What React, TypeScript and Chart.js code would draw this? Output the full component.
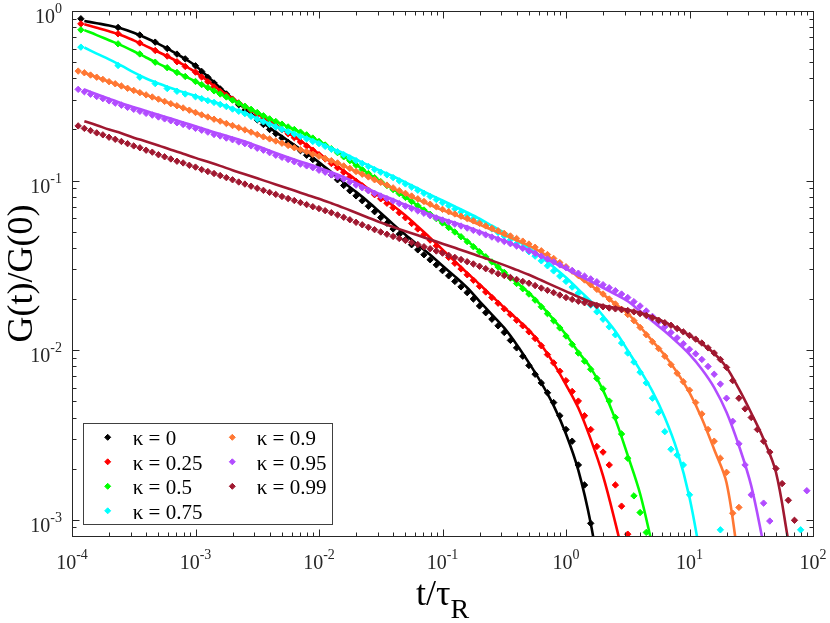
import React, { useEffect, useRef } from 'react';
import { Chart, registerables } from 'chart.js';

Chart.register(...registerables);

const FONT = '"Liberation Serif", "Times New Roman", Times, serif';
const AXIS_COLOR = '#262626';

const KAPPA_LABELS = ['0', '0.25', '0.5', '0.75', '0.9', '0.95', '0.99'];
const COLORS = ['#000000', '#ff0000', '#00ff00', '#00ffff', '#ff7733', '#b24cff', '#a01830'];

const X_MIN = 1e-4;
const X_MAX = 1e2;
const Y_MIN = 8e-4;
const Y_MAX = 1;
const X_DECADES = [-4, -3, -2, -1, 0, 1, 2];
const Y_DECADES = [-3, -2, -1, 0];

// time grids (t / tau_R)
const T_LINEAR = [1.18e-4, 2.36e-4, 3.54e-4, 4.72e-4, 5.9e-4, 7.08e-4, 8.26e-4];
const T_EARLY = [1.122e-4, 1.259e-4, 1.413e-4, 1.585e-4, 1.778e-4, 1.995e-4, 2.239e-4, 2.512e-4, 2.818e-4,
  3.162e-4, 3.548e-4, 3.981e-4, 4.467e-4, 5.012e-4, 5.623e-4, 6.31e-4, 7.079e-4, 7.943e-4, 8.913e-4];
const T_LOG = [
  1.0e-3, 1.122e-3, 1.259e-3, 1.413e-3, 1.585e-3, 1.778e-3, 1.995e-3, 2.239e-3, 2.512e-3, 2.818e-3,
  3.162e-3, 3.548e-3, 3.981e-3, 4.467e-3, 5.012e-3, 5.623e-3, 6.31e-3, 7.079e-3, 7.943e-3, 8.913e-3,
  1.0e-2, 1.122e-2, 1.259e-2, 1.413e-2, 1.585e-2, 1.778e-2, 1.995e-2, 2.239e-2, 2.512e-2, 2.818e-2,
  3.162e-2, 3.548e-2, 3.981e-2, 4.467e-2, 5.012e-2, 5.623e-2, 6.31e-2, 7.079e-2, 7.943e-2, 8.913e-2,
  0.1, 0.1122, 0.1259, 0.1413, 0.1585, 0.1778, 0.1995, 0.2239, 0.2512, 0.2818,
  0.3162, 0.3548, 0.3981, 0.4467, 0.5012, 0.5623, 0.631, 0.7079, 0.7943, 0.8913,
  1.0, 1.122, 1.259, 1.413, 1.585, 1.778, 1.995, 2.239, 2.512, 2.818,
  3.162, 3.548, 3.981, 4.467, 5.012, 5.623, 6.31, 7.079, 7.943, 8.913,
  10.0, 11.22, 12.59, 14.13, 15.85, 17.78, 19.95, 22.39, 25.12, 28.18,
  31.62, 35.48, 39.81, 44.67, 50.12, 56.23, 63.1, 70.79, 79.43, 89.13,
  100,
];
const T_A = [...T_LINEAR, ...T_LOG];
const T_B = [...T_EARLY, ...T_LOG];
const T_FIT = [
  1.259e-4, 1.585e-4, 1.995e-4, 2.512e-4, 3.162e-4, 3.981e-4, 5.012e-4, 6.31e-4, 7.943e-4,
  1.0e-3, 1.259e-3, 1.585e-3, 1.995e-3, 2.512e-3, 3.162e-3, 3.981e-3, 5.012e-3, 6.31e-3, 7.943e-3,
  1.0e-2, 1.259e-2, 1.585e-2, 1.995e-2, 2.512e-2, 3.162e-2, 3.981e-2, 5.012e-2, 6.31e-2, 7.943e-2,
  0.1, 0.1259, 0.1585, 0.1995, 0.2512, 0.3162, 0.3981, 0.5012, 0.631, 0.7943,
  1.0, 1.259, 1.585, 1.995, 2.512, 3.162, 3.981, 5.012, 6.31, 7.943,
  10.0, 12.59, 15.85, 19.95, 25.12, 31.62, 39.81, 50.12, 63.1, 79.43,
  100,
];

// simulation data G(t)/G(0) (markers); kappa 0..0.75 on T_A, kappa 0.9..0.99 on T_B
const PTS_K0 = [
  0.900, 0.800, 0.722, 0.655, 0.601, 0.557, 0.522,
  0.475, 0.440, 0.406, 0.376, 0.347, 0.324, 0.300, 0.280, 0.260, 0.243,
  0.228, 0.214, 0.200, 0.189, 0.178, 0.168, 0.158, 0.150, 0.141, 0.133,
  0.124, 0.116, 0.108, 0.101, 0.0935, 0.0870, 0.0812, 0.0760, 0.0705, 0.0655,
  0.0605, 0.0560, 0.0518, 0.0482, 0.0448, 0.0418, 0.0390, 0.0365, 0.0341, 0.0318,
  0.0294, 0.0274, 0.0254, 0.0236, 0.0218, 0.0200, 0.0182, 0.0166, 0.0152, 0.0139,
  0.0127, 0.0114, 0.0103, 0.0092, 0.0081, 0.0072, 0.0064, 0.0056, 0.0049, 0.0041,
  0.0034, 0.0029, 0.0021, 0.0016, 0.00095,
];
const PTS_K1 = [
  0.840, 0.734, 0.648, 0.585, 0.542, 0.502, 0.471,
  0.436, 0.408, 0.382, 0.357, 0.335, 0.318, 0.302, 0.287, 0.273, 0.259,
  0.246, 0.233, 0.221, 0.210, 0.199, 0.189, 0.179, 0.169, 0.160, 0.151,
  0.142, 0.134, 0.126, 0.119, 0.112, 0.105, 0.0990, 0.0930, 0.0875, 0.0825,
  0.0780, 0.0735, 0.0692, 0.0646, 0.0603, 0.0558, 0.0518, 0.0480, 0.0445, 0.0412,
  0.0380, 0.0352, 0.0325, 0.0301, 0.0278, 0.0258, 0.0238, 0.0220, 0.0204, 0.0189,
  0.0175, 0.0162, 0.0150, 0.0139, 0.0128, 0.0117, 0.0106, 0.0094, 0.0084, 0.0075,
  0.0066, 0.0057, 0.0050, 0.0041, 0.0034, 0.0027, 0.0025, 0.0021, 0.0016, 0.0012,
  0.00082,
];
const PTS_K2 = [
  0.774, 0.640, 0.558, 0.499, 0.463, 0.434, 0.411,
  0.384, 0.368, 0.353, 0.338, 0.324, 0.311, 0.298, 0.286, 0.274, 0.263,
  0.252, 0.241, 0.231, 0.223, 0.215, 0.207, 0.200, 0.193, 0.186, 0.178,
  0.170, 0.162, 0.154, 0.146, 0.138, 0.131, 0.123, 0.116, 0.110, 0.104,
  0.0985, 0.0935, 0.0885, 0.0838, 0.0795, 0.0752, 0.0710, 0.0670, 0.0632, 0.0596,
  0.0562, 0.0528, 0.0497, 0.0466, 0.0436, 0.0407, 0.0380, 0.0355, 0.0331, 0.0309,
  0.0287, 0.0266, 0.0247, 0.0230, 0.0214, 0.0197, 0.0180, 0.0164, 0.0149, 0.0135,
  0.0121, 0.0108, 0.0096, 0.0086, 0.0077, 0.0068, 0.0059, 0.0050, 0.0040, 0.0032,
  0.0023, 0.00138, 0.00110, 0.00084,
];
const PTS_K3 = [
  0.612, 0.477, 0.407, 0.373, 0.349, 0.336, 0.324,
  0.312, 0.304, 0.296, 0.289, 0.281, 0.273, 0.264, 0.256, 0.248, 0.239,
  0.230, 0.222, 0.214, 0.207, 0.200, 0.194, 0.188, 0.182, 0.176, 0.170,
  0.165, 0.159, 0.153, 0.148, 0.142, 0.136, 0.131, 0.126, 0.121, 0.116,
  0.112, 0.108, 0.104, 0.0995, 0.0955, 0.0915, 0.0877, 0.0841, 0.0806, 0.0772,
  0.0740, 0.0710, 0.0680, 0.0652, 0.0624, 0.0597, 0.0570, 0.0544, 0.0518, 0.0494,
  0.0470, 0.0447, 0.0424, 0.0402, 0.0380, 0.0358, 0.0336, 0.0314, 0.0293, 0.0273,
  0.0254, 0.0235, 0.0217, 0.0200, 0.0184, 0.0168, 0.0152, 0.0137, 0.0123, 0.0110,
  0.0096, 0.0085, 0.0074, 0.0064, 0.0052, 0.0043, 0.0033, 0.0026, 0.0024, 0.0021,
  0.0014, null, null, null, null, 0.00087, null, null, null, null,
  null, null, null, null, null, null, null, null, 0.00087,
];
const PTS_K4 = [
  0.442, 0.432, 0.419, 0.407, 0.395, 0.383, 0.372, 0.361, 0.350, 0.340,
  0.330, 0.320, 0.311, 0.302, 0.293, 0.284, 0.276, 0.268, 0.260,
  0.252, 0.244, 0.237, 0.230, 0.224, 0.217, 0.211, 0.205, 0.199, 0.193,
  0.187, 0.181, 0.176, 0.171, 0.166, 0.161, 0.156, 0.152, 0.148, 0.143,
  0.139, 0.135, 0.131, 0.127, 0.122, 0.118, 0.113, 0.109, 0.105, 0.101,
  0.0975, 0.0940, 0.0905, 0.0872, 0.0840, 0.0810, 0.0780, 0.0752, 0.0725, 0.0700,
  0.0676, 0.0655, 0.0635, 0.0616, 0.0597, 0.0578, 0.0559, 0.0540, 0.0522, 0.0505,
  0.0488, 0.0471, 0.0455, 0.0439, 0.0422, 0.0404, 0.0385, 0.0366, 0.0347, 0.0328,
  0.0310, 0.0292, 0.0275, 0.0259, 0.0243, 0.0228, 0.0214, 0.0200, 0.0187, 0.0174,
  0.0162, 0.0149, 0.0136, 0.0123, 0.0112, 0.0102, 0.0092, 0.0082, 0.0073, 0.0065,
  0.0058, 0.0049, 0.0042, 0.0034, 0.0029, 0.0023, 0.0019, 0.00109, 0.00118,
];
const PTS_K5 = [
  0.345, 0.334, 0.323, 0.313, 0.304, 0.295, 0.286, 0.278, 0.270, 0.263,
  0.256, 0.249, 0.243, 0.237, 0.231, 0.225, 0.219, 0.214, 0.208,
  0.203, 0.198, 0.193, 0.187, 0.183, 0.178, 0.174, 0.169, 0.165, 0.160,
  0.155, 0.151, 0.146, 0.141, 0.137, 0.133, 0.129, 0.125, 0.122, 0.119,
  0.115, 0.112, 0.108, 0.105, 0.102, 0.0980, 0.0940, 0.0905, 0.0870, 0.0840,
  0.0810, 0.0782, 0.0757, 0.0731, 0.0706, 0.0684, 0.0662, 0.0641, 0.0620, 0.0602,
  0.0585, 0.0569, 0.0553, 0.0539, 0.0524, 0.0508, 0.0493, 0.0478, 0.0464, 0.0450,
  0.0437, 0.0424, 0.0411, 0.0398, 0.0385, 0.0372, 0.0358, 0.0344, 0.0331, 0.0318,
  0.0306, 0.0295, 0.0284, 0.0273, 0.0263, 0.0253, 0.0243, 0.0233, 0.0224, 0.0214,
  0.0204, 0.0193, 0.0182, 0.0170, 0.0158, 0.0147, 0.0137, 0.0127, 0.0118, 0.0109,
  0.0101, 0.0095, 0.0088, 0.0080, 0.0072, 0.0063, 0.0052, 0.0038, 0.0028, 0.0021,
  0.0014, null, 0.00125, 0.00098, null, null, null, null, null, 0.00148,
];
const PTS_K6 = [
  0.210, 0.203, 0.197, 0.191, 0.186, 0.180, 0.175, 0.170, 0.165, 0.160,
  0.156, 0.151, 0.147, 0.142, 0.138, 0.134, 0.130, 0.127, 0.123,
  0.120, 0.116, 0.113, 0.110, 0.107, 0.104, 0.101, 0.0980, 0.0953, 0.0926,
  0.0900, 0.0875, 0.0851, 0.0828, 0.0805, 0.0783, 0.0762, 0.0741, 0.0721, 0.0701,
  0.0683, 0.0664, 0.0646, 0.0627, 0.0607, 0.0587, 0.0567, 0.0548, 0.0530, 0.0513,
  0.0497, 0.0482, 0.0468, 0.0455, 0.0443, 0.0431, 0.0419, 0.0407, 0.0396, 0.0384,
  0.0373, 0.0362, 0.0352, 0.0342, 0.0332, 0.0322, 0.0312, 0.0302, 0.0292, 0.0282,
  0.0275, 0.0268, 0.0261, 0.0254, 0.0248, 0.0240, 0.0232, 0.0225, 0.0218, 0.0211,
  0.0204, 0.0199, 0.0194, 0.0190, 0.0186, 0.0183, 0.0180, 0.0177, 0.0175, 0.0173,
  0.0171, 0.0168, 0.0164, 0.0160, 0.0155, 0.0150, 0.0145, 0.0140, 0.0134, 0.0128,
  0.0122, 0.0116, 0.0110, 0.0103, 0.0096, 0.0088, 0.0079, 0.0066, 0.0052, 0.0045,
  0.0040, 0.0034, 0.0029, 0.0025, 0.0020, 0.00163, 0.00130, 0.00099,
];

// model fits (solid lines) on T_FIT
const FIT_K0 = [
  0.873, 0.847, 0.821, 0.789, 0.744, 0.693, 0.640, 0.585, 0.531, 0.475,
  0.410, 0.352, 0.305, 0.266, 0.233, 0.205, 0.182, 0.162, 0.145, 0.128,
  0.112, 0.0977, 0.0857, 0.0748, 0.0644, 0.0553, 0.0478, 0.0417, 0.0365, 0.0314,
  0.0272, 0.0233, 0.0194, 0.0162, 0.0135, 0.0108, 0.0084, 0.0064, 0.0047, 0.0032,
  0.00195, 0.00095, 0.00035,
];
const FIT_K1 = [
  0.836, 0.797, 0.759, 0.720, 0.671, 0.621, 0.573, 0.528, 0.482, 0.436,
  0.385, 0.340, 0.304, 0.274, 0.248, 0.223, 0.201, 0.181, 0.162, 0.144,
  0.128, 0.114, 0.101, 0.0893, 0.0797, 0.0710, 0.0622, 0.0535, 0.0459, 0.0391,
  0.0334, 0.0285, 0.0244, 0.0208, 0.0178, 0.0153, 0.0131, 0.0107, 0.00835, 0.00624,
  0.00455, 0.00298, 0.00181, 0.000953, 0.00047,
];
const FIT_K2 = [
  0.771, 0.721, 0.672, 0.627, 0.579, 0.532, 0.489, 0.452, 0.417, 0.384,
  0.353, 0.324, 0.298, 0.274, 0.252, 0.231, 0.215, 0.200, 0.186, 0.171,
  0.155, 0.139, 0.124, 0.110, 0.0989, 0.0889, 0.0798, 0.0712, 0.0636, 0.0565,
  0.0500, 0.0440, 0.0383, 0.0332, 0.0288, 0.0250, 0.0217, 0.0183, 0.0151, 0.0123,
  0.00973, 0.00785, 0.00580, 0.00390, 0.00239, 0.00142, 0.00070,
];
const FIT_K3 = [
  0.609, 0.561, 0.518, 0.476, 0.434, 0.400, 0.374, 0.351, 0.332, 0.315,
  0.298, 0.283, 0.266, 0.250, 0.232, 0.216, 0.202, 0.190, 0.178, 0.167,
  0.155, 0.145, 0.133, 0.123, 0.114, 0.106, 0.0975, 0.0897, 0.0826, 0.0762,
  0.0703, 0.0648, 0.0595, 0.0541, 0.0492, 0.0444, 0.0400, 0.0354, 0.0309, 0.0268,
  0.0228, 0.0194, 0.0159, 0.0129, 0.00994, 0.00762, 0.00571, 0.00400, 0.00255, 0.00135,
  0.00055,
];
const FIT_K4 = [
  0.432, 0.407, 0.383, 0.361, 0.340, 0.320, 0.302, 0.284, 0.268, 0.252,
  0.237, 0.224, 0.211, 0.199, 0.187, 0.176, 0.166, 0.156, 0.148, 0.139,
  0.131, 0.122, 0.113, 0.105, 0.0971, 0.0900, 0.0834, 0.0773, 0.0718, 0.0669,
  0.0628, 0.0589, 0.0549, 0.0512, 0.0477, 0.0444, 0.0413, 0.0377, 0.0340, 0.0305,
  0.0271, 0.0241, 0.0213, 0.0187, 0.0164, 0.0137, 0.0113, 0.00929, 0.00738, 0.00560,
  0.00395, 0.00259, 0.00165, 0.00055,
];
const FIT_K5 = [
  0.344, 0.323, 0.304, 0.286, 0.271, 0.257, 0.244, 0.232, 0.220, 0.209,
  0.198, 0.188, 0.179, 0.170, 0.160, 0.150, 0.141, 0.133, 0.126, 0.119,
  0.112, 0.105, 0.0964, 0.0892, 0.0827, 0.0773, 0.0719, 0.0675, 0.0630, 0.0595,
  0.0563, 0.0533, 0.0500, 0.0470, 0.0442, 0.0413, 0.0388, 0.0358, 0.0328, 0.0301,
  0.0276, 0.0254, 0.0233, 0.0213, 0.0194, 0.0170, 0.0148, 0.0129, 0.0111, 0.00943,
  0.00771, 0.00601, 0.00430, 0.00273, 0.00158, 0.00071,
];
const FIT_K6 = [
  0.224, 0.212, 0.200, 0.190, 0.179, 0.170, 0.161, 0.152, 0.144, 0.136,
  0.129, 0.122, 0.115, 0.109, 0.103, 0.0975, 0.0922, 0.0872, 0.0825, 0.0781,
  0.0735, 0.0690, 0.0645, 0.0603, 0.0565, 0.0532, 0.0502, 0.0475, 0.0449, 0.0424,
  0.0401, 0.0379, 0.0357, 0.0337, 0.0317, 0.0297, 0.0278, 0.0258, 0.0239, 0.0222,
  0.0206, 0.0192, 0.0183, 0.0178, 0.0173, 0.0166, 0.0157, 0.0146, 0.0134, 0.0122,
  0.0109, 0.00955, 0.00790, 0.00590, 0.00425, 0.00298, 0.00190, 0.00075,
];

const ALL_PTS = [PTS_K0, PTS_K1, PTS_K2, PTS_K3, PTS_K4, PTS_K5, PTS_K6];
const ALL_FITS = [FIT_K0, FIT_K1, FIT_K2, FIT_K3, FIT_K4, FIT_K5, FIT_K6];
const PT_GRIDS = [T_A, T_A, T_A, T_A, T_B, T_B, T_B];

function drawDiamond(ctx: CanvasRenderingContext2D, x: number, y: number, r: number, color: string) {
  ctx.beginPath();
  ctx.moveTo(x - r, y);
  ctx.lineTo(x, y - r);
  ctx.lineTo(x + r, y);
  ctx.lineTo(x, y + r);
  ctx.closePath();
  ctx.fillStyle = color;
  ctx.strokeStyle = color;
  ctx.lineWidth = 1;
  ctx.fill();
  ctx.stroke();
}

function drawPow(ctx: CanvasRenderingContext2D, exp: number, x: number, baseline: number, align: 'center' | 'right') {
  const sup = String(exp);
  ctx.font = `20px ${FONT}`;
  const w1 = ctx.measureText('10').width;
  ctx.font = `14px ${FONT}`;
  const w2 = ctx.measureText(sup).width;
  const start = align === 'center' ? x - (w1 + w2) / 2 : x - (w1 + w2);
  ctx.textAlign = 'left';
  ctx.textBaseline = 'alphabetic';
  ctx.fillStyle = AXIS_COLOR;
  ctx.font = `20px ${FONT}`;
  ctx.fillText('10', start, baseline);
  ctx.font = `14px ${FONT}`;
  ctx.fillText(sup, start + w1, baseline - 10);
}

const bgPlugin = {
  id: 'whiteBg',
  beforeDraw(chart: any) {
    const c = chart.ctx;
    c.save();
    c.fillStyle = '#ffffff';
    c.fillRect(0, 0, chart.width, chart.height);
    c.restore();
  },
};

const framePlugin = {
  id: 'matlabFrame',
  afterDraw(chart: any) {
    const ctx: CanvasRenderingContext2D = chart.ctx;
    const xs = chart.scales.x;
    const ys = chart.scales.y;
    const { left, right, top, bottom } = chart.chartArea;
    const L = Math.round(left) + 0.5;
    const R = Math.round(right) + 0.5;
    const T = Math.round(top) + 0.5;
    const B = Math.round(bottom) + 0.5;
    ctx.save();
    ctx.strokeStyle = AXIS_COLOR;
    ctx.lineWidth = 1;
    ctx.strokeRect(L, T, R - L, B - T);

    ctx.beginPath();
    for (const e of X_DECADES) {
      for (let k = 1; k <= 9; k++) {
        const v = k * Math.pow(10, e);
        if (v < X_MIN * 0.999 || v > X_MAX * 1.001) continue;
        const px = Math.round(xs.getPixelForValue(v)) + 0.5;
        const len = k === 1 ? 7 : 4;
        ctx.moveTo(px, B);
        ctx.lineTo(px, B - len);
        ctx.moveTo(px, T);
        ctx.lineTo(px, T + len);
      }
    }
    for (const e of [-4, ...Y_DECADES]) {
      for (let k = 1; k <= 9; k++) {
        const v = k * Math.pow(10, e);
        if (v < Y_MIN * 0.999 || v > Y_MAX * 1.001) continue;
        const py = Math.round(ys.getPixelForValue(v)) + 0.5;
        const len = k === 1 ? 7 : 4;
        ctx.moveTo(L, py);
        ctx.lineTo(L + len, py);
        ctx.moveTo(R, py);
        ctx.lineTo(R - len, py);
      }
    }
    ctx.stroke();

    for (const e of X_DECADES) {
      drawPow(ctx, e, xs.getPixelForValue(Math.pow(10, e)), bottom + 33, 'center');
    }
    for (const e of Y_DECADES) {
      drawPow(ctx, e, left - 10, ys.getPixelForValue(Math.pow(10, e)) + 12, 'right');
    }

    ctx.fillStyle = '#000000';
    ctx.save();
    ctx.translate(32, (top + bottom) / 2);
    ctx.rotate(-Math.PI / 2);
    ctx.font = `36px ${FONT}`;
    ctx.textAlign = 'center';
    ctx.textBaseline = 'alphabetic';
    ctx.fillText('G(t)/G(0)', 0, 0);
    ctx.restore();

    ctx.font = `36px ${FONT}`;
    const wMain = ctx.measureText('t/τ').width;
    ctx.font = `28px ${FONT}`;
    const wSub = ctx.measureText('R').width;
    const xc = (left + right) / 2;
    const sx = xc - (wMain + wSub) / 2;
    ctx.textAlign = 'left';
    ctx.textBaseline = 'alphabetic';
    ctx.font = `36px ${FONT}`;
    ctx.fillText('t/τ', sx, bottom + 69);
    ctx.font = `28px ${FONT}`;
    ctx.fillText('R', sx + wMain, bottom + 82);

    const lx = 83.5;
    const ly = 423.5;
    ctx.fillStyle = '#ffffff';
    ctx.fillRect(lx, ly, 249, 101);
    ctx.strokeStyle = '#404040';
    ctx.lineWidth = 1;
    ctx.strokeRect(lx, ly, 249, 101);
    const rowY = [437.3, 461.8, 486.3, 510.8];
    const markX = [107.7, 232.3];
    const textX = [132.7, 256.7];
    KAPPA_LABELS.forEach((lab, k) => {
      const col = k < 4 ? 0 : 1;
      const row = k < 4 ? k : k - 4;
      drawDiamond(ctx, markX[col], rowY[row], 3, COLORS[k]);
      ctx.fillStyle = '#000000';
      ctx.font = `21px ${FONT}`;
      ctx.textAlign = 'left';
      ctx.textBaseline = 'alphabetic';
      ctx.fillText('κ = ' + lab, textX[col], rowY[row] + 8);
    });
    ctx.restore();
  },
};

export default function App() {
  const canvasRef = useRef<HTMLCanvasElement>(null);

  useEffect(() => {
    const canvas = canvasRef.current;
    if (!canvas) return;
    const datasets: any[] = [];
    ALL_PTS.forEach((ys, k) => {
      const grid = PT_GRIDS[k];
      const pts: { x: number; y: number }[] = [];
      ys.forEach((y, i) => {
        if (y !== null && y !== undefined) pts.push({ x: grid[i], y: y as number });
      });
      datasets.push({
        label: 'κ = ' + KAPPA_LABELS[k],
        data: pts,
        showLine: false,
        pointStyle: 'rectRot',
        pointRadius: 3.2,
        pointBorderWidth: 1,
        pointBackgroundColor: COLORS[k],
        pointBorderColor: COLORS[k],
        order: 100 - 2 * k,
      });
      datasets.push({
        label: 'fit κ = ' + KAPPA_LABELS[k],
        data: ALL_FITS[k].map((y, i) => ({ x: T_FIT[i], y })),
        showLine: true,
        pointRadius: 0,
        borderColor: COLORS[k],
        backgroundColor: COLORS[k],
        borderWidth: 2.6,
        tension: 0.35,
        fill: false,
        clip: 0,
        order: 99 - 2 * k,
      });
    });

    const chart = new Chart(canvas, {
      type: 'scatter',
      data: { datasets },
      options: {
        responsive: false,
        animation: false,
        events: [],
        layout: { padding: { left: 72, right: 17, top: 11, bottom: 87 } },
        scales: {
          x: { type: 'logarithmic', min: X_MIN, max: X_MAX, display: false },
          y: { type: 'logarithmic', min: Y_MIN, max: Y_MAX, display: false },
        },
        plugins: {
          legend: { display: false },
          tooltip: { enabled: false },
          title: { display: false },
        },
      },
      plugins: [bgPlugin, framePlugin],
    } as any);

    return () => chart.destroy();
  }, []);

  return (
    <div style={{ position: 'absolute', left: 0, top: 0, width: 830, height: 623, background: '#fff' }}>
      <canvas ref={canvasRef} width={830} height={623} style={{ display: 'block' }} />
    </div>
  );
}
